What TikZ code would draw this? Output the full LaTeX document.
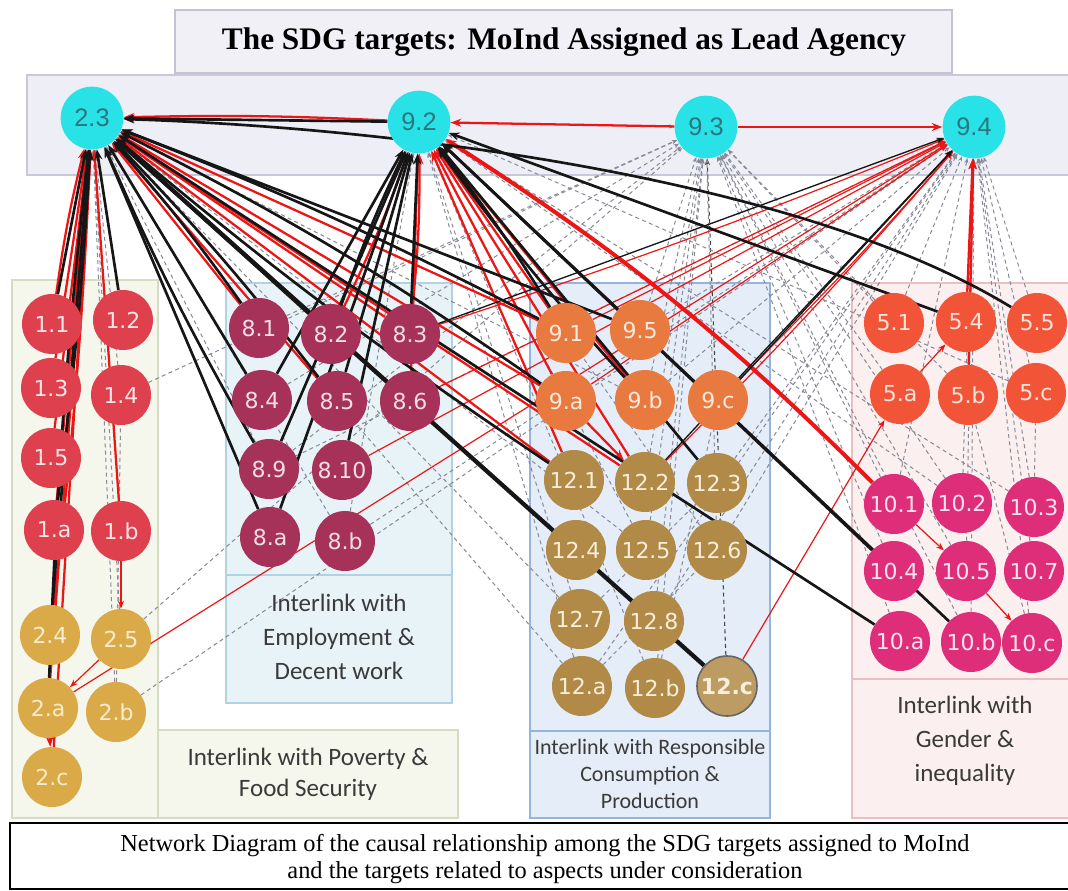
\documentclass[tikz,border=0pt]{standalone}
\usepackage{fontspec}
\setmainfont{Liberation Serif}
\newfontfamily\sdgfont{DejaVu Sans}
\newfontfamily\boxfont{Carlito}
\newfontfamily\leadfont{Liberation Sans}
\usetikzlibrary{arrows.meta}

\pgfdeclarelayer{boxes}
\pgfdeclarelayer{links}
\pgfsetlayers{boxes,links,main}

\definecolor{topcyan}{RGB}{40,226,232}
\definecolor{toptext}{RGB}{44,118,126}
\definecolor{povred}{RGB}{222,64,78}
\definecolor{foodgold}{RGB}{218,170,72}
\definecolor{empmaroon}{RGB}{166,50,90}
\definecolor{indorange}{RGB}{232,122,64}
\definecolor{conbrown}{RGB}{176,138,70}
\definecolor{gendred}{RGB}{242,84,56}
\definecolor{ineqpink}{RGB}{222,46,122}
\definecolor{lnred}{RGB}{236,22,22}
\definecolor{lnblack}{RGB}{22,22,22}
\definecolor{lngray}{RGB}{135,138,150}
\definecolor{titlefill}{RGB}{241,240,246}
\definecolor{titleline}{RGB}{196,194,212}
\definecolor{bandfill}{RGB}{238,238,246}
\definecolor{bandline}{RGB}{200,200,216}
\definecolor{povfill}{RGB}{245,246,236}
\definecolor{povline}{RGB}{214,220,196}
\definecolor{empfill}{RGB}{232,243,248}
\definecolor{empline}{RGB}{176,210,226}
\definecolor{confill}{RGB}{228,237,248}
\definecolor{conline}{RGB}{148,180,222}
\definecolor{genfill}{RGB}{251,239,239}
\definecolor{genline}{RGB}{232,192,196}
\definecolor{lbltext}{RGB}{58,58,58}

\tikzset{
  sdg/.style={circle, minimum size=45pt, inner sep=0pt, font=\sdgfont\fontsize{16.5}{16.5}\selectfont},
  lead/.style={circle, minimum size=47pt, inner sep=0pt, fill=topcyan, text=toptext, font=\leadfont\fontsize{19}{19}\selectfont},
  pov/.style={sdg, fill=povred, text={rgb,255:red,250;green,228;blue,228}},
  food/.style={sdg, fill=foodgold, text={rgb,255:red,248;green,236;blue,206}},
  emp/.style={sdg, fill=empmaroon, text={rgb,255:red,244;green,222;blue,228}},
  ind/.style={sdg, fill=indorange, text={rgb,255:red,252;green,234;blue,222}},
  con/.style={sdg, fill=conbrown, text={rgb,255:red,248;green,238;blue,218}},
  gen/.style={sdg, fill=gendred, text={rgb,255:red,253;green,226;blue,218}},
  ineq/.style={sdg, fill=ineqpink, text={rgb,255:red,252;green,226;blue,238}},
  boxlbl/.style={align=center, text=lbltext, inner sep=0.75pt, font=\boxfont\fontsize{18.75}{25.5}\selectfont},
  blkln/.style={draw=lnblack, line width=2pt, -{Stealth[length=8pt,width=6pt]}},
  redln/.style={draw=lnred, line width=1.7pt, -{Stealth[length=8pt,width=6pt]}},
  thinred/.style={draw=lnred, line width=0.9pt, -{Stealth[length=6pt,width=4.5pt]}},
  thinblk/.style={draw=lnblack, line width=1pt, -{Stealth[length=6pt,width=4.5pt]}},
  dashln/.style={draw=lngray, line width=0.75pt, dash pattern=on 3pt off 2.5pt, -{Stealth[length=4pt,width=3pt]}},
  dashdk/.style={draw=lnblack!80, line width=0.8pt, dash pattern=on 3pt off 2.5pt, -{Stealth[length=5pt,width=4pt]}},
  dashin/.style={draw=lngray, line width=0.75pt, dash pattern=on 3pt off 2.5pt}
}

\begin{document}
\begin{tikzpicture}[x=0.75pt,y=0.75pt,yscale=-1,xscale=1]
\useasboundingbox (0,0) rectangle (1068,890);

\begin{pgfonlayer}{boxes}
%Shape: Rectangle [title]
\draw [draw=titleline, fill=titlefill, line width=1.5pt] (175,10) -- (952,10) -- (952,73) -- (175,73) -- cycle ;
%Shape: Rectangle [lead band]
\draw [draw=bandline, fill=bandfill, line width=1.5pt] (27,75) -- (1080,75) -- (1080,175) -- (27,175) -- cycle ;
%Shape: Rectangle [poverty]
\draw [draw=povline, fill=povfill, line width=1.5pt] (12,280) -- (158,280) -- (158,818) -- (12,818) -- cycle ;
\draw [draw=povline, fill=povfill, line width=1.5pt] (158,730) -- (458,730) -- (458,818) -- (158,818) -- cycle ;
%Shape: Rectangle [employment]
\draw [draw=empline, fill=empfill, line width=1.5pt] (226,283) -- (452,283) -- (452,703) -- (226,703) -- cycle ;
\draw [draw=empline, line width=1.5pt] (226,575) -- (452,575) ;
%Shape: Rectangle [consumption]
\draw [draw=conline, fill=confill, line width=2pt] (530,283) -- (770,283) -- (770,818) -- (530,818) -- cycle ;
\draw [draw=conline, line width=2pt] (530,731) -- (770,731) ;
%Shape: Rectangle [gender]
\draw [draw=genline, fill=genfill, line width=1.5pt] (852,283) -- (1080,283) -- (1080,818) -- (852,818) -- cycle ;
\draw [draw=genline, line width=1.5pt] (852,679) -- (1080,679) ;
%Shape: Rectangle [caption]
\draw [draw=black, fill=white, line width=1.2pt] (10,823) -- (1080,823) -- (1080,889) -- (10,889) -- cycle ;
\end{pgfonlayer}

% Lead agency targets
\draw (92,118) node [lead] (t23) {2.3};
\draw (419,122) node [lead] (t92) {9.2};
\draw (706,127) node [lead] (t93) {9.3};
\draw (974,127) node [lead] (t94) {9.4};

% Poverty & food security
\draw (52,324) node [pov] (n11) {1.1};
\draw (123,320) node [pov] (n12) {1.2};
\draw (51,388) node [pov] (n13) {1.3};
\draw (121,395) node [pov] (n14) {1.4};
\draw (51,458) node [pov] (n15) {1.5};
\draw (54,530) node [pov] (n1a) {1.a};
\draw (121,531) node [pov] (n1b) {1.b};
\draw (50,635) node [food] (n24) {2.4};
\draw (121,639) node [food] (n25) {2.5};
\draw (48,708) node [food] (n2a) {2.a};
\draw (116,712) node [food] (n2b) {2.b};
\draw (52,777) node [food] (n2c) {2.c};

% Employment & decent work
\draw (259,328) node [emp] (n81) {8.1};
\draw (331,334) node [emp] (n82) {8.2};
\draw (410,334) node [emp] (n83) {8.3};
\draw (262,400) node [emp] (n84) {8.4};
\draw (337,401) node [emp] (n85) {8.5};
\draw (410,401) node [emp] (n86) {8.6};
\draw (269,469) node [emp] (n89) {8.9};
\draw (342,470) node [emp] (n810) {8.10};
\draw (270,537) node [emp] (n8a) {8.a};
\draw (345,541) node [emp] (n8b) {8.b};

% Responsible consumption & production
\draw (566,333) node [ind] (n91) {9.1};
\draw (640,330) node [ind] (n95) {9.5};
\draw (566,401) node [ind] (n9a) {9.a};
\draw (645,400) node [ind] (n9b) {9.b};
\draw (718,400) node [ind] (n9c) {9.c};
\draw (574,480) node [con] (n121) {12.1};
\draw (645,482) node [con] (n122) {12.2};
\draw (717,483) node [con] (n123) {12.3};
\draw (576,550) node [con] (n124) {12.4};
\draw (646,550) node [con] (n125) {12.5};
\draw (717,550) node [con] (n126) {12.6};
\draw (580,619) node [con] (n127) {12.7};
\draw (654,621) node [con] (n128) {12.8};
\draw (582,686) node [con] (n12a) {12.a};
\draw (655,688) node [con] (n12b) {12.b};
\draw (727,686) node [con, fill=conbrown!85!white, draw=gray!80!black, line width=1.2pt, font=\sdgfont\bfseries\fontsize{16.5}{16.5}\selectfont] (n12c) {12.c};

% Gender & inequality
\draw (894,323) node [gen] (n51) {5.1};
\draw (966,322) node [gen] (n54) {5.4};
\draw (1037,323) node [gen] (n55) {5.5};
\draw (900,394) node [gen] (n5a) {5.a};
\draw (968,395) node [gen] (n5b) {5.b};
\draw (1036,393) node [gen] (n5c) {5.c};
\draw (894,504) node [ineq] (n101) {10.1};
\draw (962,503) node [ineq] (n102) {10.2};
\draw (1034,507) node [ineq] (n103) {10.3};
\draw (894,571) node [ineq] (n104) {10.4};
\draw (966,571) node [ineq] (n105) {10.5};
\draw (1034,571) node [ineq] (n107) {10.7};
\draw (900,641) node [ineq] (n10a) {10.a};
\draw (971,642) node [ineq] (n10b) {10.b};
\draw (1032,643) node [ineq] (n10c) {10.c};

\begin{pgfonlayer}{links}
% dashed links
\draw [dashdk] (n12c) -- (t93);
\draw [dashln] (n126) -- (t93);
\draw [dashln] (n95) -- (t93);
\draw [dashln] (n9b) -- (t93);
\draw [dashln] (n122) -- (t93);
\draw [dashln] (n125) -- (t93);
\draw [dashln] (n128) -- (t93);
\draw [dashln] (n12b) -- (t93);
\draw [dashln] (n81) -- (t93);
\draw [dashln] (n84) -- (t93);
\draw [dashln] (n89) -- (t93);
\draw [dashln] (n14) -- (t93);
\draw [dashln] (n25) -- (t93);
\draw [dashln] (n51) -- (t93);
\draw [dashln] (n5a) -- (t93);
\draw [dashln] (n5b) -- (t93);
\draw [dashln] (n101) -- (t93);
\draw [dashln] (n102) -- (t93);
\draw [dashln] (n104) -- (t93);
\draw [dashln] (n10a) -- (t93);
\draw [dashln] (n10b) -- (t93);
\draw [dashln] (n105) -- (t93);
\draw [dashln] (t92) -- (t93);
\draw [dashln] (n51) -- (t94);
\draw [dashln] (n55) -- (t94);
\draw [dashln] (n5c) -- (t94);
\draw [dashln] (n102) -- (t94);
\draw [dashln] (n103) -- (t94);
\draw [dashln] (n105) -- (t94);
\draw [dashln] (n107) -- (t94);
\draw [dashln] (n10b) -- (t94);
\draw [dashln] (n10c) -- (t94);
\draw [dashln] (n101) -- (t94);
\draw [dashln] (n123) -- (t94);
\draw [dashln] (n126) -- (t94);
\draw [dashln] (n128) -- (t94);
\draw [dashln] (n12a) -- (t94);
\draw [dashln] (n9b) -- (t94);
\draw [dashln] (n95) -- (t94);
\draw [dashln] (n89) -- (t94);
\draw [dashln] (n8b) -- (t94);
\draw [dashln] (n2b) -- (t94);
\draw [dashln] (n14) -- (t23);
\draw [dashln] (n2b) -- (t23);
\draw [dashln] (n25) -- (t23);
\draw [dashln] (n8b) -- (t23);
\draw [dashln] (n89) -- (t23);
\draw [dashln] (n9b) -- (t23);
\draw [dashln] (n125) -- (t23);
\draw [dashln] (n127) -- (t23);
\draw [dashln] (n12a) -- (t23);
\draw [dashln] (n12b) -- (t92);
\draw [dashln] (n125) -- (t92);
\draw [dashln] (n126) -- (t92);
\draw [dashln] (n127) -- (t92);
\draw [dashln] (n8b) -- (t92);
\draw [dashln] (n5c) -- (t92);
\draw [dashln] (n102) -- (t92);
\draw [dashln] (n103) -- (t92);
\draw [dashln] (n12a) -- (t92);
\draw [dashin] (n2b) -- (n14);
\draw [dashin] (n12a) -- (n126);
\draw [dashin] (n127) -- (n123);
\draw [dashin] (n12b) -- (n9c);
\draw [dashin] (n103) -- (n5c);
\draw [dashin] (n10c) -- (n5b);

% red links
\draw [redln] (n1a) -- (t23);
\draw [redln] (n1b) -- (t23);
\draw [redln] (n2a) -- (t23);
\draw [redln] (n2c) -- (t23);
\draw [redln] (n24) to [bend left=2] (t23);
\draw [redln] (n13) -- (t23);
\draw [redln] (n15) -- (t23);
\draw [redln] (n11) to [bend right=3] (t23);
\draw [redln] (n81) -- (t23);
\draw [redln] (n85) -- (t23);
\draw [redln] (n86) -- (t23);
\draw [redln] (n83) -- (t23);
\draw [redln] (n9a) -- (t23);
\draw [redln] (n91) -- (t23);
\draw [redln] (n122) -- (t23);
\draw [redln] (n121) -- (t23);
\draw [redln] (t92) to [bend left=2] (t23);
\draw [redln] (n83) to [bend left=3] (t92);
\draw [redln] (n86) -- (t92);
\draw [redln] (n82) to [bend left=3] (t92);
\draw [redln] (n121) -- (t92);
\draw [redln] (n122) -- (t92);
\draw [redln] (n9b) -- (t92);
\draw [redln] (n91) -- (t92);
\draw [redln] (n9a) -- (t92);
\draw [redln, line width=3pt] (n101) to [bend left=6] (t92);
\draw [redln] (t93) -- (t92);
\draw [redln] (t93) -- (t94);
\draw [redln] (n54) -- (t94);
\draw [redln] (n5b) -- (t94);
\draw [thinred] (n2a) -- (t94);
\draw [thinred] (n9c) to [bend left=2] (t94);
\draw [thinred] (n86) -- (t94);
\draw [thinred] (n83) to [bend left=2] (t94);
\draw [thinred] (n810) -- (t94);
\draw [thinred] (n91) -- (t94);
\draw [thinred] (n9a) -- (t94);
\draw [thinred] (n122) to [bend left=2] (t94);
\draw [thinred] (n12c) -- (n5a);
\draw [thinred] (n5a) -- (n54);
\draw [thinred] (n1b) -- (n25);
\draw [thinred] (n25) -- (n2a);
\draw [redln] (n2a) -- (n2c);
\draw [redln] (n9a) -- (n122);
\draw [thinred] (n101) -- (n105);
\draw [thinred] (n105) -- (n10c);

% black links
\draw [blkln] (n11) -- (t23);
\draw [blkln] (n12) -- (t23);
\draw [blkln] (n1a) to [bend left=2] (t23);
\draw [blkln] (n24) -- (t23);
\draw [blkln] (n2a) to [bend right=2] (t23);
\draw [blkln] (n81) to [bend left=3] (t23);
\draw [blkln] (n84) -- (t23);
\draw [blkln] (n8a) -- (t23);
\draw [blkln] (n82) -- (t23);
\draw [blkln] (n85) to [bend left=3] (t23);
\draw [blkln] (n89) to [bend right=3] (t23);
\draw [blkln] (n91) to [bend left=3] (t23);
\draw [blkln] (n9a) to [bend left=4] (t23);
\draw [blkln] (n95) -- (t23);
\draw [blkln] (n121) to [bend right=3] (t23);
\draw [blkln, line width=3.2pt] (n12c) -- (t23);
\draw [blkln] (n10a) -- (t23);
\draw [blkln] (n55) .. controls (800,178) and (400,128) .. (t23);
\draw [blkln] (t92) -- (t23);
\draw [blkln] (n82) to [bend right=3] (t92);
\draw [blkln] (n84) -- (t92);
\draw [blkln] (n8a) -- (t92);
\draw [blkln] (n85) -- (t92);
\draw [blkln] (n810) -- (t92);
\draw [blkln] (n89) -- (t92);
\draw [blkln] (n83) -- (t92);
\draw [blkln] (n91) to [bend left=3] (t92);
\draw [blkln] (n9b) to [bend right=3] (t92);
\draw [blkln] (n95) -- (t92);
\draw [blkln] (n123) -- (t92);
\draw [blkln] (n104) -- (t92);
\draw [blkln] (n10b) -- (t92);
\draw [blkln] (n54) -- (t92);
\draw [thinblk] (n9c) -- (t94);
\draw [thinblk] (n83) -- (t94);
\draw [thinblk] (n122) -- (t94);
\end{pgfonlayer}

% Text Node
\draw (564,42) node [inner sep=0.75pt, font=\bfseries\fontsize{23.5}{23.5}\selectfont] (ttl) {The SDG targets: MoInd Assigned as Lead Agency};
% Text Node
\draw (308,774) node [boxlbl, font=\boxfont\fontsize{18.75}{23}\selectfont] (lblpov) {Interlink with Poverty \&\\Food Security};
% Text Node
\draw (339,637) node [boxlbl] (lblemp) {Interlink with\\Employment \&\\Decent work};
% Text Node
\draw (650,774) node [boxlbl, font=\boxfont\fontsize{16.5}{20}\selectfont] (lblcon) {Interlink with Responsible\\Consumption \&\\Production};
% Text Node
\draw (965,741) node [boxlbl] (lblgen) {Interlink with\\Gender \&\\inequality};
% Text Node
\draw (545,859) node [align=center, inner sep=0.75pt, font=\fontsize{18.3}{20.25}\selectfont] (cap) {Network Diagram of the causal relationship among the SDG targets assigned to MoInd\\and the targets related to aspects under consideration};
\end{tikzpicture}
\end{document}
